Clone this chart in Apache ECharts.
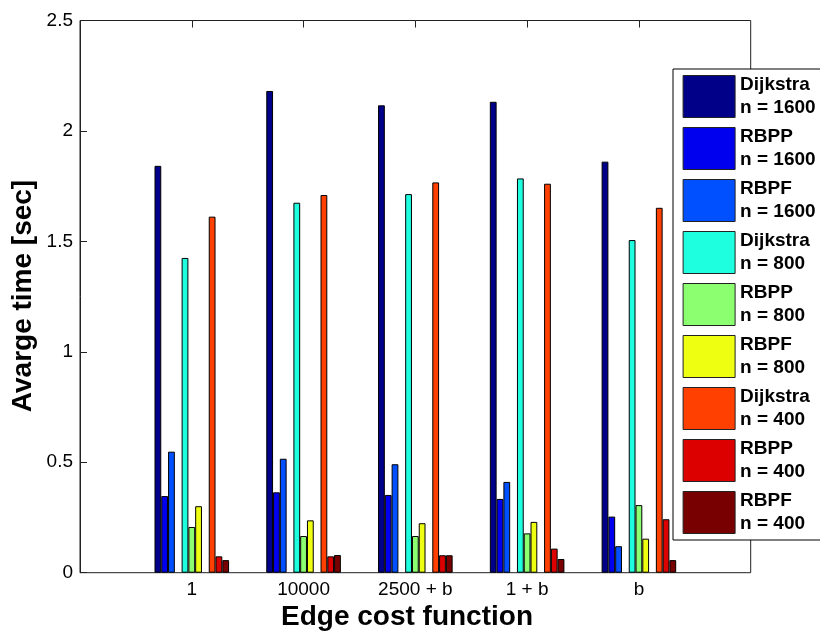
<!DOCTYPE html>
<html>
<head>
<meta charset="utf-8">
<script src="https://cdn.jsdelivr.net/npm/echarts@6/dist/echarts.min.js"></script>
<style>
html,body{margin:0;padding:0;background:#fff;}
#chart{width:820px;height:632px;}
</style>
</head>
<body>
<div id="chart"></div>
<script>
// Categories (edge cost functions)
var categories = ['1', '10000', '2500 + b', '1 + b', 'b'];
// Y tick values
var yTicks = [0, 0.5, 1, 1.5, 2, 2.5];
// Series names
var seriesNames = [
  'Dijkstra\nn = 1600', 'RBPP\nn = 1600', 'RBPF\nn = 1600',
  'Dijkstra\nn = 800', 'RBPP\nn = 800', 'RBPF\nn = 800',
  'Dijkstra\nn = 400', 'RBPP\nn = 400', 'RBPF\nn = 400'
];
// Average time [sec] per series, one value per category
var dijkstra1600 = [1.842, 2.181, 2.116, 2.132, 1.861];
var rbpp1600     = [0.347, 0.364, 0.352, 0.334, 0.254];
var rbpf1600     = [0.548, 0.516, 0.491, 0.411, 0.120];
var dijkstra800  = [1.425, 1.675, 1.714, 1.785, 1.506];
var rbpp800      = [0.207, 0.166, 0.166, 0.178, 0.306];
var rbpf800      = [0.301, 0.237, 0.224, 0.230, 0.154];
var dijkstra400  = [1.612, 1.710, 1.767, 1.761, 1.652];
var rbpp400      = [0.074, 0.074, 0.079, 0.109, 0.242];
var rbpf400      = [0.057, 0.080, 0.079, 0.062, 0.057];

var seriesData = [dijkstra1600, rbpp1600, rbpf1600, dijkstra800, rbpp800, rbpf800, dijkstra400, rbpp400, rbpf400];
var colors = ['#000088', '#0000EE', '#0050FF', '#1EFFE0', '#8CFF70', '#EEFF12', '#FF4000', '#DD0000', '#780000'];

var FONT = 'Liberation Sans, Arial, sans-serif';

var series = [];
function addBar(i) {
  series.push({
    type: 'bar',
    name: seriesNames[i],
    xAxisIndex: 1,
    yAxisIndex: 1,
    data: seriesData[i],
    barWidth: 6.78,
    barGap: '0%',
    itemStyle: { color: colors[i], borderColor: '#000', borderWidth: 1 },
    emphasis: { disabled: true },
    animation: false
  });
}
function addSpacer() {
  series.push({
    type: 'bar', name: 'spacer' + series.length,
    xAxisIndex: 1, yAxisIndex: 1, data: [],
    barWidth: 6.78, barGap: '0%', silent: true, animation: false
  });
}
addBar(0); addBar(1); addBar(2); addSpacer();
addBar(3); addBar(4); addBar(5); addSpacer();
addBar(6); addBar(7); addBar(8);

var chart = echarts.init(document.getElementById('chart'), null, { renderer: 'canvas' });
chart.setOption({
  animation: false,
  backgroundColor: '#fff',
  textStyle: { fontFamily: FONT },
  grid: [
    { left: 80, right: 69.3, top: 20.5, bottom: 59.3, show: true, borderColor: '#222', borderWidth: 1, backgroundColor: 'transparent' },
    { left: 135.9, right: 125.2, top: 20.5, bottom: 59.3 }
  ],
  xAxis: [
    { type: 'value', gridIndex: 0, show: false, min: 0, max: 6 },
    { type: 'category', gridIndex: 1, data: categories, position: 'bottom',
      axisLine: { show: false },
      axisTick: { show: true, inside: true, alignWithLabel: true, length: 7, lineStyle: { color: '#222' } },
      axisLabel: { color: '#000', fontSize: 19, fontFamily: FONT, margin: 8 } },
    { type: 'category', gridIndex: 1, data: categories, position: 'top',
      axisLine: { show: false },
      axisTick: { show: true, inside: true, alignWithLabel: true, length: 7, lineStyle: { color: '#222' } },
      axisLabel: { show: false } }
  ],
  yAxis: [
    { type: 'value', gridIndex: 0, min: yTicks[0], max: yTicks[yTicks.length - 1], interval: 0.5,
      axisLine: { show: true, lineStyle: { color: '#222' } },
      axisTick: { show: true, inside: true, length: 7, lineStyle: { color: '#222' } },
      splitLine: { show: false },
      axisLabel: { color: '#000', fontSize: 19, fontFamily: FONT, margin: 7 } },
    { type: 'value', gridIndex: 1, min: yTicks[0], max: yTicks[yTicks.length - 1], show: false, splitLine: { show: false } }
  ],
  legend: {
    data: seriesNames,
    orient: 'vertical',
    left: 673,
    top: 69,
    itemWidth: 52,
    itemHeight: 42,
    itemGap: 6,
    padding: [4.5, 12, 4.5, 9.6],
    backgroundColor: '#fff',
    borderColor: '#000',
    borderWidth: 1,
    borderRadius: 0,
    selectedMode: false,
    icon: 'rect',
    itemStyle: { borderColor: '#222', borderWidth: 1 },
    textStyle: { color: '#000', fontSize: 19, fontWeight: 'bold', fontFamily: FONT, lineHeight: 23, padding: [0, 0, 0, 0] },
    z: 10
  },
  graphic: [
    { type: 'text', x: 407, y: 617, z: 10,
      style: { text: 'Edge cost function', fill: '#000', font: 'bold 28px ' + FONT, textAlign: 'center', textVerticalAlign: 'middle' } },
    { type: 'text', x: 23, y: 296, rotation: Math.PI / 2, z: 10,
      style: { text: 'Avarge time [sec]', fill: '#000', font: 'bold 28px ' + FONT, textAlign: 'center', textVerticalAlign: 'middle' } }
  ],
  series: series
});
</script>
</body>
</html>
